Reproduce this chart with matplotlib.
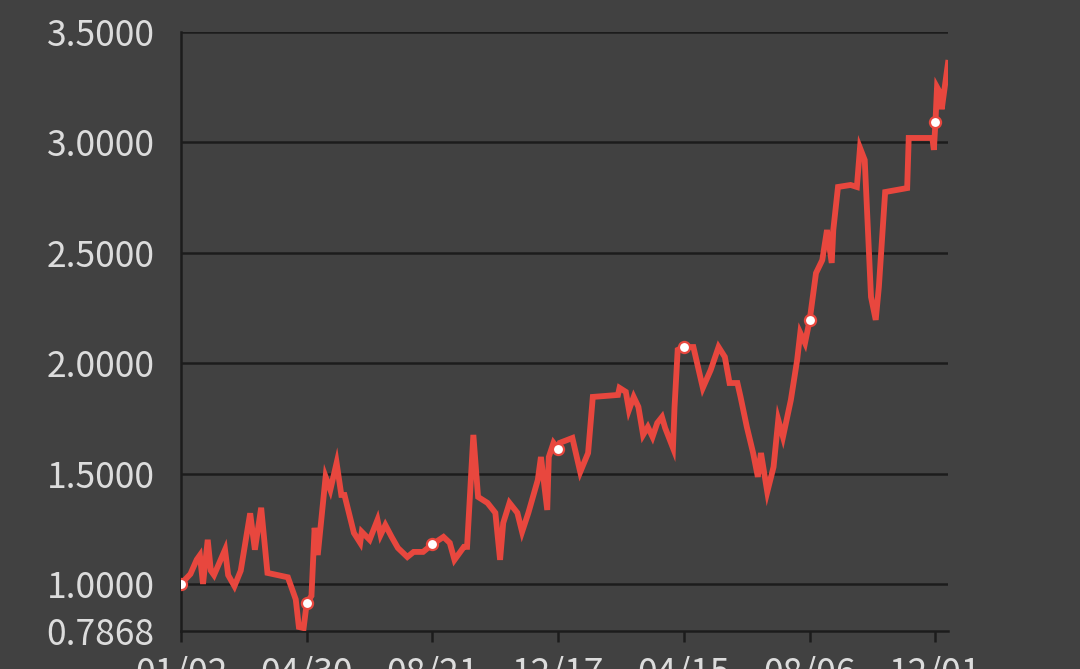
import numpy as np
from matplotlib import pyplot as plt

# индекс торгового дня и значение
days = [0, 6, 10, 12, 14, 17, 19, 21, 28, 30, 34, 38, 44, 47, 51, 55, 68, 73, 75, 78,
        80, 83, 85, 87, 92, 95, 99, 102, 104, 110, 114, 115, 120, 125, 127, 130, 134, 138, 144, 148, 154,
        160, 167, 171, 174, 180, 182, 186, 189, 195, 200, 203, 205, 209, 214, 217, 221, 227, 229, 233, 234, 237,
        240, 241, 249, 254, 259, 262, 278, 279, 283, 285, 288, 291, 294, 297, 300, 303, 306, 308, 313, 314, 316,
        320, 326, 332, 337, 342, 346, 349, 354, 356, 360, 364, 367, 369, 373, 377, 380, 383, 388, 392, 394, 397,
        400, 404, 408, 411, 414, 415, 418, 426, 430, 432, 435, 439, 442, 444, 448, 462, 463, 478, 479,
        480, 481, 483, 484, 488]
values = [1.00, 1.045, 1.11, 1.13, 1.00, 1.20, 1.06, 1.04, 1.155, 1.04, 0.99, 1.06, 1.32, 1.155, 1.345, 1.05, 1.03, 0.93, 0.805, 0.80,
          0.914, 0.946, 1.254, 1.131, 1.485, 1.426, 1.548, 1.403, 1.403, 1.231, 1.186, 1.236, 1.20, 1.29, 1.222, 1.267, 1.213, 1.163, 1.122, 1.145, 1.145,
          1.18, 1.213, 1.186, 1.109, 1.168, 1.168, 1.675, 1.394, 1.367, 1.322, 1.109, 1.276, 1.367, 1.322, 1.236, 1.322, 1.471, 1.575, 1.335, 1.575, 1.639,
          1.611, 1.639, 1.661, 1.507, 1.593, 1.847, 1.856, 1.888, 1.87, 1.788, 1.847, 1.802, 1.675, 1.711, 1.666, 1.729, 1.756, 1.707, 1.616, 1.802, 2.06,
          2.073, 2.073, 1.888, 1.969, 2.073, 2.028, 1.91, 1.91, 1.847, 1.711, 1.593, 1.485, 1.593, 1.417, 1.53, 1.743, 1.666, 1.833, 2.014, 2.137, 2.091,
          2.196, 2.408, 2.467, 2.603, 2.454, 2.603, 2.798, 2.807, 2.798, 2.975, 2.92, 2.30, 2.196, 2.345, 2.775, 2.793, 3.02, 3.02, 2.966,
          3.092, 3.25, 3.224, 3.15, 3.36]

tick_days = [0, 80, 160, 240, 320, 400, 480]
tick_labels = ['01/02', '04/30', '08/21', '12/17', '04/15', '08/06', '12/01']
y_ticks = [0.7868, 1.0, 1.5, 2.0, 2.5, 3.0, 3.5]

bg = '#414141'
grid_c = '#1c1c1c'
txt_c = '#dcdcdc'
red = '#e8473e'

plt.rcParams['font.family'] = ['Noto Sans CJK SC', 'DejaVu Sans']

fig = plt.figure(figsize=(10.8, 6.69), dpi=100, facecolor=bg)
ax = fig.add_axes([0.1676, 0.0568, 0.7102, 0.8954], facecolor=bg)

x = np.array(days)
y = np.array(values)
ax.plot(x, y, color=red, lw=4.2, solid_joinstyle='miter', zorder=3)

# белые точки на метках оси X
mask = np.isin(x, tick_days)
ax.plot(x[mask], y[mask], 'o', ms=8, mfc='white', mec=red, mew=1.6, zorder=4)

ax.set_xlim(0, 488)
ax.set_ylim(0.7868, 3.5)
ax.set_yticks(y_ticks)
ax.set_yticklabels(['%.4f' % v for v in y_ticks])
ax.set_xticks(tick_days)
ax.set_xticklabels(tick_labels)

for v in y_ticks[1:]:
    ax.axhline(v, color=grid_c, lw=1.8, zorder=1)

for s in ['top', 'right']:
    ax.spines[s].set_visible(False)
ax.spines['left'].set_color(grid_c)
ax.spines['left'].set_linewidth(1.8)
ax.spines['bottom'].set_color(grid_c)
ax.spines['bottom'].set_linewidth(1.8)

ax.tick_params(axis='y', length=0, pad=19, labelsize=25.5, labelcolor=txt_c)
ax.tick_params(axis='x', length=8, width=1.8, color=grid_c, pad=10, labelsize=25.5, labelcolor=txt_c)

fig.savefig('out.png', dpi=100, facecolor=bg)
